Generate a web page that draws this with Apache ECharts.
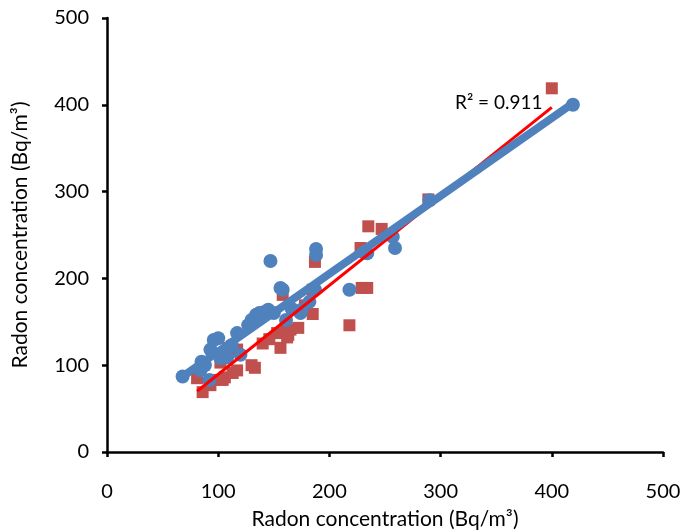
<!DOCTYPE html>
<html>
<head>
<meta charset="utf-8">
<script src="https://cdn.jsdelivr.net/npm/echarts@6/dist/echarts.min.js"></script>
<style>
  html, body { margin: 0; padding: 0; background: #fff; }
  #chart { width: 683px; height: 532px; }
</style>
</head>
<body>
<div id="chart"></div>
<script>
// values
var bluePoints = [
  [68, 87], [84, 94], [85, 104], [88, 100], [92, 83], [93, 118], [96, 129], [100, 131],
  [102, 108], [108, 109], [112, 123], [117, 137], [120, 112], [127, 146], [130, 152],
  [134, 158], [137, 160], [141, 161], [145, 164], [147, 220], [150, 160], [156, 189],
  [158, 187], [161, 152], [166, 165], [174, 160], [175, 164], [182, 173], [187, 187],
  [188, 227], [188, 234], [218, 187], [231, 230], [234, 229], [257, 248], [259, 235],
  [290, 290], [419, 400]
];
var redPoints = [
  [86, 69], [93, 77], [95, 83], [81, 85], [104, 83], [106, 86], [113, 91], [102, 103],
  [109, 120], [117, 94], [117, 118], [130, 100], [133, 97], [140, 125], [146, 130],
  [153, 137], [156, 120], [158, 181], [160, 141], [162, 132], [163, 135], [165, 141],
  [172, 143], [178, 169], [185, 159], [185, 187], [187, 219], [218, 146], [228, 235],
  [229, 189], [234, 189], [235, 260], [247, 257], [289, 291], [400, 419]
];
// trend lines (slope, intercept)
var blueFit = [0.897, 26];
var redFit = [1.025, -13];
var axisTicks = [0, 100, 200, 300, 400, 500];
var r2Label = 'R² = 0.911';

function fitLine(points, fit) {
  var xs = points.map(function (p) { return p[0]; });
  var x0 = Math.min.apply(null, xs), x1 = Math.max.apply(null, xs);
  return [[x0, fit[0] * x0 + fit[1]], [x1, fit[0] * x1 + fit[1]]];
}

var font = 'Lato, "Open Sans", sans-serif';
var axisCommon = {
  type: 'value',
  min: axisTicks[0],
  max: axisTicks[axisTicks.length - 1],
  interval: 100,
  nameLocation: 'middle',
  nameTextStyle: { color: '#000', fontSize: 21, fontFamily: font },
  axisLine: { show: true, lineStyle: { color: '#000', width: 2.5 } },
  axisTick: { show: true, length: 5, lineStyle: { color: '#000', width: 2.5 } },
  axisLabel: { color: '#000', fontSize: 20, fontFamily: font },
  splitLine: { show: false }
};

var chart = echarts.init(document.getElementById('chart'));
chart.setOption({
  animation: false,
  backgroundColor: '#fff',
  grid: { left: 107, right: 20, top: 18, bottom: 80, outerBoundsMode: 'none', containLabel: false },
  xAxis: Object.assign({}, axisCommon, {
    name: 'Radon concentration (Bq/m³)',
    nameGap: 57,
    axisLabel: Object.assign({}, axisCommon.axisLabel, { margin: 30 })
  }),
  yAxis: Object.assign({}, axisCommon, {
    name: 'Radon concentration (Bq/m³)',
    nameGap: 76,
    axisLabel: Object.assign({}, axisCommon.axisLabel, { margin: 18 })
  }),
  series: [
    {
      type: 'scatter',
      data: redPoints,
      symbol: 'rect',
      symbolSize: 12,
      itemStyle: { color: '#C0504D', opacity: 1 },
      z: 2
    },
    {
      type: 'scatter',
      data: bluePoints,
      symbol: 'circle',
      symbolSize: 14,
      itemStyle: { color: '#4F81BD', opacity: 1 },
      z: 3
    },
    {
      type: 'line',
      data: fitLine(redPoints, redFit),
      showSymbol: false,
      lineStyle: { color: '#FF0000', width: 3 },
      z: 4
    },
    {
      type: 'line',
      data: fitLine(bluePoints, blueFit),
      showSymbol: false,
      lineStyle: { color: '#4F81BD', width: 8 },
      z: 5
    }
  ],
  graphic: [{
    type: 'text',
    left: 455,
    top: 93,
    style: { text: r2Label, fill: '#000', fontSize: 19, fontFamily: font }
  }]
});
</script>
</body>
</html>
